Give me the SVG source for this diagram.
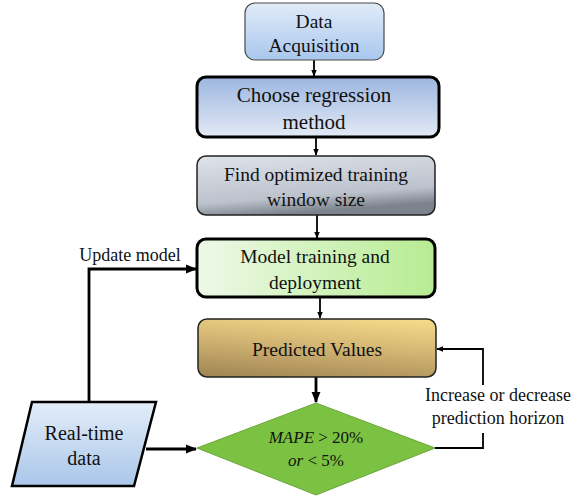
<svg xmlns="http://www.w3.org/2000/svg" width="581" height="499" viewBox="0 0 581 499">
<defs>
<linearGradient id="gBlue" x1="0" y1="0" x2="0" y2="1"><stop offset="0" stop-color="#e1ebf8"/><stop offset="1" stop-color="#a9c7ee"/></linearGradient>
<linearGradient id="gBlue2" x1="0" y1="0" x2="0" y2="1"><stop offset="0" stop-color="#9cb6e0"/><stop offset="1" stop-color="#e3eaf5"/></linearGradient>
<linearGradient id="gGray" x1="0" y1="0" x2="0.3" y2="1"><stop offset="0" stop-color="#dfe3ea"/><stop offset="0.75" stop-color="#bcc2cc"/><stop offset="1" stop-color="#7d838c"/></linearGradient>
<linearGradient id="gGreen" x1="0" y1="0" x2="1" y2="0"><stop offset="0" stop-color="#eef9e8"/><stop offset="1" stop-color="#b7ec92"/></linearGradient>
<linearGradient id="gGold" x1="0" y1="1" x2="0.4" y2="-0.3"><stop offset="0" stop-color="#9e8452"/><stop offset="0.5" stop-color="#d4b674"/><stop offset="1" stop-color="#fde58f"/></linearGradient>
<linearGradient id="gPara" x1="0" y1="0" x2="0" y2="1"><stop offset="0" stop-color="#e3edf8"/><stop offset="1" stop-color="#a9c6ea"/></linearGradient>
<marker id="ah" viewBox="0 0 10 10" refX="9" refY="5" markerWidth="4" markerHeight="4" orient="auto" markerUnits="strokeWidth"><path d="M0,1 L10,5 L0,9 z" fill="#000"/></marker>
</defs>
<style>
.t{font-family:"Liberation Serif","Times New Roman",serif;fill:#111;text-anchor:middle}
.b{font-size:19.5px}
.s{font-size:18px}
.c{fill:none;stroke:#000;stroke-width:1.8}
.ck{fill:none;stroke:#000;stroke-width:2.8}
</style>
<g id="connectors">
<line class="c" x1="314" y1="60" x2="314" y2="76" marker-end="url(#ah)"/>
<line class="c" x1="316" y1="137" x2="316" y2="155" marker-end="url(#ah)"/>
<line class="c" x1="317" y1="215" x2="317" y2="238" marker-end="url(#ah)"/>
<line class="c" x1="320" y1="297" x2="320" y2="318" marker-end="url(#ah)"/>
<line class="ck" x1="316" y1="377" x2="316" y2="402" marker-end="url(#ah)"/>
<polyline class="ck" points="89,402 89,269 196,269" marker-end="url(#ah)"/>
<line class="ck" x1="146" y1="449" x2="196" y2="449" marker-end="url(#ah)"/>
<polyline class="c" points="435,448 483,448 483,433"/>
<polyline class="c" points="483,385 483,349 437,349" marker-end="url(#ah)"/>
<text class="t s" x="130" y="261">Update model</text>
<text class="t s" x="498" y="401">Increase or decrease</text>
<text class="t s" x="498" y="424">prediction horizon</text>
</g>
<g id="data-acquisition">
<rect x="245" y="3" width="139" height="57" rx="10" fill="url(#gBlue)" stroke="#4a4a4a" stroke-width="1.2"/>
<text class="t b" x="314" y="28">Data</text>
<text class="t b" x="314" y="52">Acquisition</text>
</g>
<g id="choose-regression">
<rect x="197" y="77" width="242" height="60" rx="9" fill="url(#gBlue2)" stroke="#000" stroke-width="3"/>
<text class="t" style="font-size:21px" x="314" y="102">Choose regression</text>
<text class="t" style="font-size:21px" x="314" y="129">method</text>
</g>
<g id="find-window">
<rect x="197" y="156" width="238" height="59" rx="9" fill="url(#gGray)" stroke="#222" stroke-width="1.5"/>
<text class="t b" x="316" y="181">Find optimized training</text>
<text class="t b" x="316" y="206">window size</text>
</g>
<g id="model-training">
<rect x="197" y="239" width="238" height="58" rx="9" fill="url(#gGreen)" stroke="#000" stroke-width="3"/>
<text class="t b" x="315" y="263">Model training and</text>
<text class="t b" x="315" y="289">deployment</text>
</g>
<g id="predicted-values">
<rect x="198" y="319" width="238" height="58" rx="9" fill="url(#gGold)" stroke="#222" stroke-width="1.5"/>
<text class="t b" x="317" y="356">Predicted Values</text>
</g>
<g id="mape-decision">
<polygon points="316,403 435,448 316,495 197,448" fill="#7bc242" stroke="#6aa63a" stroke-width="1"/>
<text class="t" style="font-size:17px" x="316" y="443"><tspan font-style="italic">MAPE</tspan> &gt; 20%</text>
<text class="t" style="font-size:17px" x="316" y="466"><tspan font-style="italic">or</tspan> &lt; 5%</text>
</g>
<g id="real-time-data">
<polygon points="32,402 156,402 134,486 12,486" fill="url(#gPara)" stroke="#000" stroke-width="2.5"/>
<text class="t" style="font-size:20px" x="84" y="440">Real-time</text>
<text class="t" style="font-size:20px" x="84" y="465">data</text>
</g>
</svg>
